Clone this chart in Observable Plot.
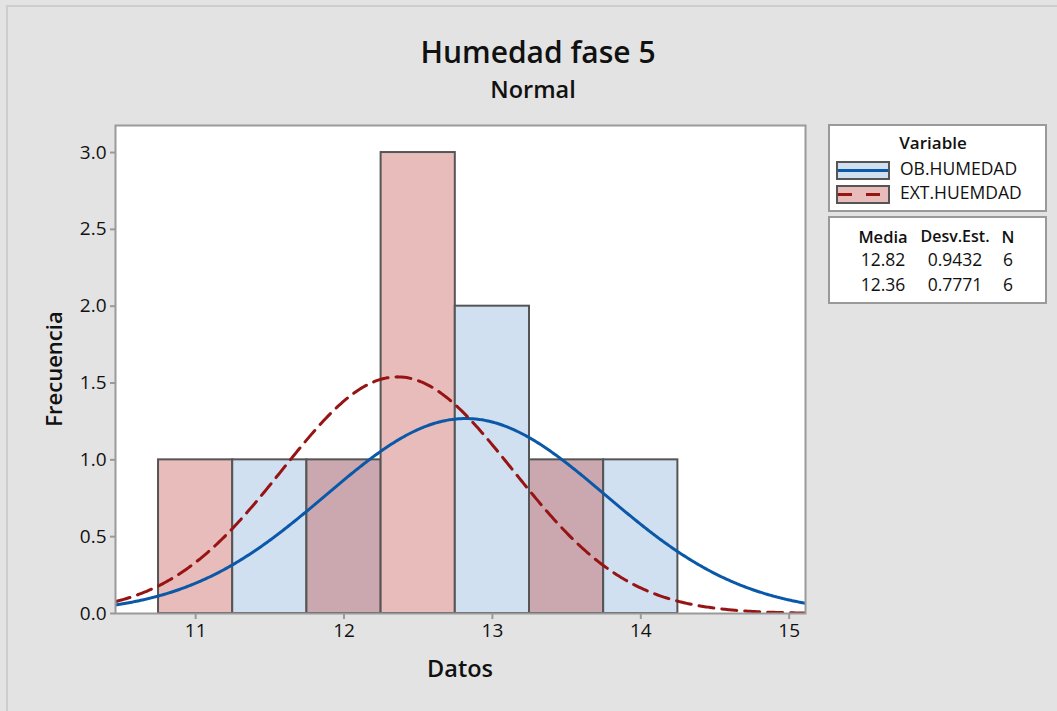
<!DOCTYPE html>
<html>
<head>
<meta charset="utf-8">
<script src="https://cdn.jsdelivr.net/npm/d3@7"></script>
<script src="https://cdn.jsdelivr.net/npm/@observablehq/plot@0.6"></script>
<style>
  html, body { margin: 0; padding: 0; background: #e3e3e3; }
  #chart { position: relative; width: 1057px; height: 711px; }
  svg { display: block; }
</style>
</head>
<body>
<div id="chart"></div>
<script>
// ---- data ----
const binStarts = [10.75, 11.25, 11.75, 12.25, 12.75, 13.25, 13.75];
const binWidth = 0.5;
const obCounts  = [0, 1, 1, 0, 2, 1, 1];   // OB.HUMEDAD
const extCounts = [1, 0, 1, 3, 0, 1, 0];   // EXT.HUEMDAD
const seriesNames = ["OB.HUMEDAD", "EXT.HUEMDAD"];
const means = [12.82, 12.36];
const sds = [0.9432, 0.7771];
const ns = [6, 6];
const xTicks = [11, 12, 13, 14, 15];
const yTicks = [0, 0.5, 1.0, 1.5, 2.0, 2.5, 3.0];

// ---- derived tables ----
const colBlue = "#d1e0f0", colRed = "#e9bcbc", colBoth = "#cba7af";
const bars = [];
binStarts.forEach((s, i) => {
  const a = obCounts[i], b = extCounts[i];
  const lo = Math.min(a, b), hi = Math.max(a, b);
  if (lo > 0) bars.push({x1: s, x2: s + binWidth, y1: 0, y2: lo, fill: colBoth});
  if (hi > lo) bars.push({x1: s, x2: s + binWidth, y1: lo, y2: hi, fill: a > b ? colBlue : colRed});
});
const xDomain = [10.46, 15.11];
const fitted = (k) => d3.range(xDomain[0], xDomain[1] + 0.005, 0.01).map(x => ({
  x, y: ns[k] * binWidth * Math.exp(-0.5 * ((x - means[k]) / sds[k]) ** 2) / (sds[k] * Math.sqrt(2 * Math.PI))
}));

const FONT = "'Open Sans', 'Noto Sans', sans-serif";
const W = 1057, H = 711;
const mL = 115, mT = 125, mR = 252, mB = 98;

const plot = Plot.plot({
  width: W, height: H,
  marginLeft: mL, marginTop: mT, marginRight: mR, marginBottom: mB,
  style: {background: "transparent", fontFamily: FONT, fontSize: "18px", color: "#111"},
  x: {domain: xDomain},
  y: {domain: [0, 3.176]},
  marks: [
    Plot.frame({fill: "white", stroke: null}),
    Plot.rect(bars, {x1: "x1", x2: "x2", y1: "y1", y2: "y2", fill: "fill", stroke: "#555", strokeWidth: 2}),
    Plot.line(fitted(0), {x: "x", y: "y", stroke: "#0a58a8", strokeWidth: 3, clip: true}),
    Plot.line(fitted(1), {x: "x", y: "y", stroke: "#961414", strokeWidth: 3, strokeDasharray: "15,8", clip: true}),
    Plot.frame({stroke: "#9a9a9a", strokeWidth: 2}),
    Plot.axisX({ticks: xTicks, tickFormat: d => String(d), tickSize: 6, stroke: "#9a9a9a", strokeWidth: 2, tickPadding: 4, label: null, fill: "#111", fontSize: 19}),
    Plot.axisY({ticks: yTicks, tickFormat: d3.format(".1f"), tickSize: 5, stroke: "#9a9a9a", strokeWidth: 2, tickPadding: 4, label: null, fill: "#111", fontSize: 19})
  ]
});
document.getElementById("chart").appendChild(plot);

const svg = d3.select(plot);
// outer border
svg.insert("rect", ":first-child").attr("x", 7).attr("y", 6).attr("width", W).attr("height", H)
  .attr("fill", "#e3e3e3").attr("stroke", "#cdcdcd").attr("stroke-width", 2);

const txt = (x, y, s, size, weight, anchor = "middle") =>
  svg.append("text").attr("x", x).attr("y", y).attr("text-anchor", anchor)
    .attr("dominant-baseline", "central")
    .attr("font-family", FONT).attr("font-size", size).attr("font-weight", weight)
    .attr("fill", "#111").text(s);

// titles
txt(538, 51, "Humedad fase 5", 30, 600);
txt(533, 89, "Normal", 23.5, 600);
// axis labels
txt(460, 668, "Datos", 23.5, 600);
txt(0, 0, "Frecuencia", 22, 600).attr("transform", "translate(53,369) rotate(-90)");

// legend box 1
svg.append("rect").attr("x", 829).attr("y", 125).attr("width", 217).attr("height", 86)
  .attr("fill", "white").attr("stroke", "#9a9a9a").attr("stroke-width", 2);
txt(933, 142, "Variable", 17, 600);
const swatches = [
  {y: 162, fill: colBlue, stroke: "#0a58a8", dash: null},
  {y: 186, fill: colRed, stroke: "#961414", dash: "14,14"}
];
swatches.forEach((s, i) => {
  svg.append("rect").attr("x", 837).attr("y", s.y).attr("width", 52).attr("height", 17)
    .attr("fill", s.fill).attr("stroke", "#555").attr("stroke-width", 2);
  svg.append("line").attr("x1", 838).attr("x2", 888).attr("y1", s.y + 8.5).attr("y2", s.y + 8.5)
    .attr("stroke", s.stroke).attr("stroke-width", 3).attr("stroke-dasharray", s.dash);
  txt(900, s.y + 6, seriesNames[i], 17.5, 400, "start");
});
// legend box 2
svg.append("rect").attr("x", 829).attr("y", 217).attr("width", 217).attr("height", 86)
  .attr("fill", "white").attr("stroke", "#9a9a9a").attr("stroke-width", 2);
txt(883, 236, "Media", 16.5, 600);
txt(955, 236, "Desv.Est.", 16, 600);
txt(1008, 236, "N", 16.5, 600);
means.forEach((m, i) => {
  const y = 259 + i * 25;
  txt(883, y, m.toFixed(2), 17.5, 400);
  txt(955, y, sds[i].toFixed(4), 17.5, 400);
  txt(1008, y, String(ns[i]), 17.5, 400);
});
</script>
</body>
</html>
